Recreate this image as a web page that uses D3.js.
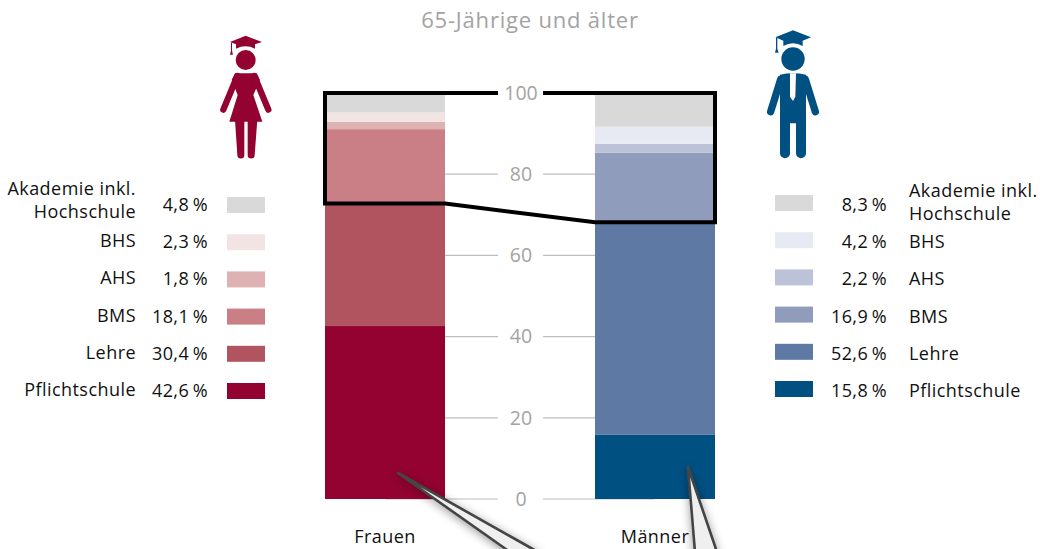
<!DOCTYPE html>
<html lang="de">
<head>
<meta charset="utf-8">
<script src="https://cdn.jsdelivr.net/npm/d3@7"></script>
<style>
html,body{margin:0;padding:0;background:#fff}
svg{display:block}
text{font-family:"Open Sans","Noto Sans",sans-serif}
</style>
</head>
<body>
<svg id="chart" width="1043" height="549"></svg>
<script>
const title = "65-Jährige und älter";
const groups = ["Frauen", "Männer"];
const levels = ["Pflichtschule", "Lehre", "BMS", "AHS", "BHS", "Akademie inkl. Hochschule"];
const frauen = [42.6, 30.4, 18.1, 1.8, 2.3, 4.8];
const maenner = [15.8, 52.6, 16.9, 2.2, 4.2, 8.3];
const tickValues = [0, 20, 40, 60, 80, 100];
const frauenColors = ["#930230", "#b25460", "#c97f85", "#deb1b3", "#f3e4e4", "#d9d9d9"];
const maennerColors = ["#005082", "#5e79a3", "#8f9cbb", "#bcc2d7", "#e7eaf3", "#d9d9d9"];

const svg = d3.select("#chart");
const y = d3.scaleLinear().domain([0, 100]).range([499, 93]);
const x = d3.scalePoint().domain(groups).range([385, 655]);
const barW = 120, axisX = 521;
const fmt = d3.formatLocale({decimal: ",", thousands: ".", grouping: [3], currency: ["", ""]}).format(".1f");
const pct = v => fmt(v) + "\u2009%";
const cum = arr => { let s = 0; return arr.map(v => { const b = s; s += v; return [b, s]; }); };

// grid
const grid = svg.append("g");
grid.selectAll("line").data(tickValues.filter(t => t < 100)).join("line")
  .attr("x1", x("Frauen")).attr("x2", x("Männer"))
  .attr("y1", d => y(d)).attr("y2", d => y(d))
  .attr("stroke", "#bdbdbd").attr("stroke-width", 1.2);

// stacked bars
[[groups[0], frauen, frauenColors], [groups[1], maenner, maennerColors]].forEach(([g, vals, cols]) => {
  svg.append("g").selectAll("rect").data(cum(vals)).join("rect")
    .attr("x", x(g) - barW / 2).attr("width", barW)
    .attr("y", d => y(d[1])).attr("height", d => y(d[0]) - y(d[1]))
    .attr("fill", (d, i) => cols[i]);
});

// highlight frame
const fTop = cum(frauen)[1][1], mTop = cum(maenner)[1][1];
const L = x("Frauen") - barW / 2, R = x("Männer") + barW / 2, nudge = 1;
svg.append("path")
  .attr("d", d3.line()([
    [L, y(100)], [R, y(100)], [R, y(mTop) + nudge], [x("Männer") - barW / 2, y(mTop) + nudge],
    [x("Frauen") + barW / 2, y(fTop) + nudge], [L, y(fTop) + nudge]
  ]) + "Z")
  .attr("fill", "none").attr("stroke", "#000").attr("stroke-width", 4).attr("stroke-linejoin", "miter");

// axis labels with white gaps
const axisG = svg.append("g").attr("transform", `translate(${axisX},0)`);
axisG.selectAll("rect.gap").data(tickValues).join("rect").attr("class", "gap")
  .attr("x", -23).attr("width", 45).attr("y", d => y(d) - 5).attr("height", 10).attr("fill", "#fff");
const axis = d3.axisRight(y).tickValues(tickValues).tickSize(0).tickPadding(0);
axisG.call(axis);
axisG.select(".domain").remove();
axisG.selectAll("text")
  .attr("text-anchor", "middle").attr("x", 0)
  .attr("font-size", 19.5).attr("font-family", '"Open Sans",sans-serif').attr("fill", "#a3a3a3");

// title
svg.append("text").attr("x", 530).attr("y", 28).attr("text-anchor", "middle")
  .attr("font-size", 22).attr("letter-spacing", 0.8).attr("fill", "#a3a3a3").text(title);

// group labels
const textCol = "#111", fs = 18, ls_ = 0.45;
svg.append("g").selectAll("text").data(groups).join("text")
  .attr("x", d => x(d)).attr("y", 543).attr("text-anchor", "middle")
  .attr("font-size", fs).attr("letter-spacing", ls_).attr("fill", textCol).text(d => d);

// legends
const rows = d3.scalePoint().domain(levels.slice().reverse()).range([205, 391]);
const rowsR = d3.scalePoint().domain(levels.slice().reverse()).range([203, 389]);
const splitLabel = n => n === levels[5] ? ["Akademie inkl.", "Hochschule"] : [n];
const txt = (g, px, py, anchor, t) => g.append("text").attr("x", px).attr("y", py)
  .attr("text-anchor", anchor).attr("font-size", fs).attr("letter-spacing", ls_).attr("fill", textCol).text(t);

const legL = svg.append("g");
levels.forEach((n, i) => {
  const c = rows(n);
  legL.append("rect").attr("x", 227).attr("y", c - 8).attr("width", 38).attr("height", 16).attr("fill", frauenColors[i]);
  txt(legL, 208, c + 6, "end", pct(frauen[i]));
  const ls = splitLabel(n);
  ls.forEach((t, k) => txt(legL, 136, ls.length > 1 ? c - 10 + k * 23 : c + 5, "end", t));
});
const legR = svg.append("g");
levels.forEach((n, i) => {
  const c = rowsR(n);
  legR.append("rect").attr("x", 775).attr("y", c - 8).attr("width", 38).attr("height", 16).attr("fill", maennerColors[i]);
  txt(legR, 887, c + 8, "end", pct(maenner[i]));
  const ls = splitLabel(n);
  ls.forEach((t, k) => txt(legR, 909, ls.length > 1 ? c - 6 + k * 23 : c + 8, "start", t));
});

// icons (drawn in zoomed units)
const woman = svg.append("g").attr("transform", "translate(200,20) scale(0.3333)").attr("fill", frauenColors[0]);
woman.append("circle").attr("cx", 137).attr("cy", 120).attr("r", 30);
woman.append("path").attr("d", "M90,66L137,47L186,66L165,73L165,86Q137,72 108,86L108,73Z");
woman.append("path").attr("d", "M93,68L96,68L96,92L99,104L90,104L93,92Z");
woman.append("path").attr("d", "M105,160L170,160L180,180L160,225L187,305L88,305L113,225L95,180Z");
woman.append("path").attr("d", "M105,300L133,300L133,405A10.5,10.5 0 0 1 112,405Z M143,300L172,300L164,405A10.5,10.5 0 0 1 143,405Z");
woman.append("path").attr("d", "M112,168L70,269M163,168L205,269")
  .attr("fill", "none").attr("stroke", frauenColors[0]).attr("stroke-width", 19).attr("stroke-linecap", "round");

const man = svg.append("g").attr("transform", "translate(750,20) scale(0.3333)").attr("fill", maennerColors[0]);
man.append("circle").attr("cx", 129).attr("cy", 117).attr("r", 35);
man.append("path").attr("d", "M76,52L129,31L183,52L158,62L158,78Q129,62 100,78L100,62Z");
man.append("path").attr("d", "M78,54L82,54L82,86L86,98L75,98L78,86Z");
man.append("path").attr("d", "M90,164Q129,156 168,164L168,310L90,310Z");
man.append("path").attr("d", "M92,178L62,275M166,178L196,275")
  .attr("fill", "none").attr("stroke", maennerColors[0]).attr("stroke-width", 22).attr("stroke-linecap", "round");
man.append("path").attr("d", "M105,300L105,400M153,300L153,400")
  .attr("fill", "none").attr("stroke", maennerColors[0]).attr("stroke-width", 30).attr("stroke-linecap", "round");
man.append("path").attr("d", "M120,160L138,160L136,230L129,243L120,230Z").attr("fill", "#fff");

// callout pointers running off the bottom edge
const defs = svg.append("defs");
const f = defs.append("filter").attr("id", "sh").attr("x", "-50%").attr("y", "-50%").attr("width", "200%").attr("height", "200%");
f.append("feDropShadow").attr("dx", 0).attr("dy", 2).attr("stdDeviation", 5).attr("flood-color", "#000").attr("flood-opacity", 0.4);
const pointers = svg.append("g");
["M398,473L510,552L538,552Z", "M688,467L695,552L717,552Z"].forEach(d => {
  pointers.append("path").attr("d", d).attr("fill", "#efefef").attr("stroke", "#444").attr("stroke-width", 2.6)
    .attr("stroke-linejoin", "round").attr("filter", "url(#sh)");
});
</script>
</body>
</html>
